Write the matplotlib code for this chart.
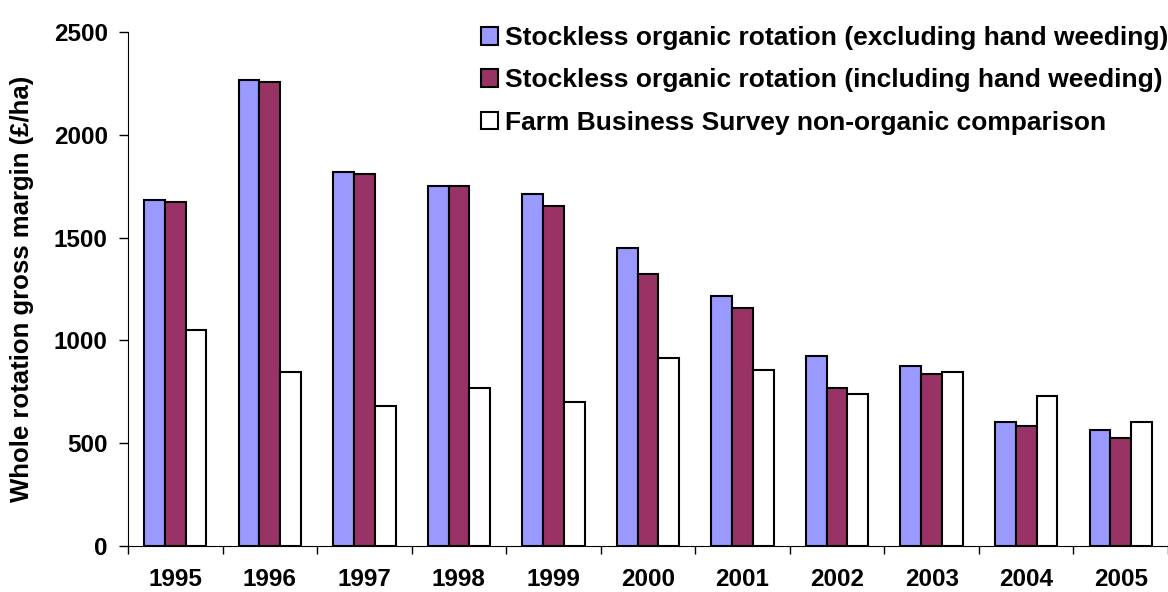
import numpy as np
import matplotlib
matplotlib.use('Agg')
import matplotlib.pyplot as plt

plt.rcParams['font.family'] = 'Liberation Sans'
plt.rcParams['font.weight'] = 'bold'

anos = ['1995', '1996', '1997', '1998', '1999', '2000', '2001', '2002', '2003', '2004', '2005']
sem_capina = [1683, 2266, 1819, 1751, 1712, 1449, 1216, 925, 877, 603, 564]
com_capina = [1672, 2257, 1810, 1751, 1654, 1323, 1158, 768, 838, 582, 525]
fbs = [1051, 846, 681, 768, 700, 914, 856, 741, 846, 730, 603]

legendas = ['Stockless organic rotation (excluding hand weeding)',
            'Stockless organic rotation (including hand weeding)',
            'Farm Business Survey non-organic comparison']
cores = ['#9999FF', '#993366', '#FFFFFF']

fig = plt.figure(figsize=(11.68, 5.92), dpi=100)
ax = fig.add_axes([128 / 1168, 46 / 592, 1 - 128 / 1168, 514 / 592])

x = np.arange(len(anos))
w = 0.22
series = [sem_capina, com_capina, fbs]
for i, (vals, c, lab) in enumerate(zip(series, cores, legendas)):
    ax.bar(x + (i - 1) * w, vals, w, color=c, edgecolor='black', linewidth=1.5, label=lab)

ax.set_xlim(-0.5, len(anos) - 0.5)
ax.set_ylim(0, 2500)
ax.set_yticks(np.arange(0, 2501, 500))
ax.set_xticks(x)
ax.set_xticklabels(anos)
ax.set_xticks(np.arange(-0.5, len(anos)), minor=True)
ax.tick_params(axis='x', which='major', length=0, pad=16, labelsize=17.5)
ax.tick_params(axis='x', which='minor', length=6, width=1)
ax.tick_params(axis='y', length=6.5, width=1, labelsize=17.5, pad=8)
ax.set_ylabel('Whole rotation gross margin (£/ha)', fontsize=18.5, fontweight='bold', labelpad=14)

for s in ['top', 'right']:
    ax.spines[s].set_visible(False)

fig.legend(loc='upper right', bbox_to_anchor=(1.0, 1 - 26 / 592), frameon=False, fontsize=19,
           borderpad=0, borderaxespad=0,
           handlelength=0.65, handleheight=0.65, handletextpad=0.25, labelspacing=0.7)

fig.savefig('out.png', dpi=100)
